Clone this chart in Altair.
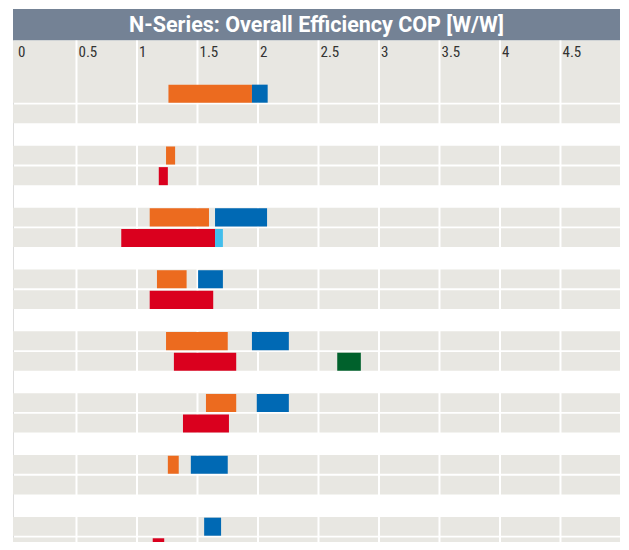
import altair as alt
import pandas as pd

# ---- data ----
title_text = "N-Series: Overall Efficiency COP [W/W]"
tick_values = [0, 0.5, 1, 1.5, 2, 2.5, 3, 3.5, 4, 4.5]
tick_labels = ["0", "0.5", "1", "1.5", "2", "2.5", "3", "3.5", "4", "4.5"]

n_groups = 8
rows_per_group = 2

bar_group = [0, 0, 1, 1, 2, 2, 2, 2, 3, 3, 3, 4, 4, 4, 4, 5, 5, 5, 6, 6, 7, 7]
bar_row = [0, 0, 0, 1, 0, 0, 1, 1, 0, 0, 1, 0, 0, 1, 1, 0, 0, 1, 0, 0, 0, 1]
bar_start = [1.26, 1.95, 1.24, 1.18, 1.105, 1.645, 0.87, 1.645, 1.165, 1.505, 1.105,
             1.24, 1.95, 1.305, 2.655, 1.57, 1.99, 1.38, 1.255, 1.445, 1.555, 1.13]
bar_end = [1.95, 2.08, 1.315, 1.255, 1.595, 2.075, 1.645, 1.71, 1.41, 1.71, 1.63,
           1.75, 2.255, 1.82, 2.85, 1.82, 2.255, 1.76, 1.345, 1.75, 1.695, 1.225]
bar_series = ["orange", "blue", "orange", "red", "orange", "blue", "red", "lightblue",
              "orange", "blue", "red", "orange", "blue", "red", "green", "orange",
              "blue", "red", "orange", "blue", "blue", "red"]

series_names = ["orange", "blue", "red", "lightblue", "green"]
series_colors = ["#EC6B1F", "#0069B4", "#DA001E", "#42BEEC", "#00612C"]

# ---- layout (in scale units) ----
X_MIN, X_MAX = -0.0248, 4.992
Y_MIN, Y_MAX = -3.589, 22.26
HEADER_BOTTOM = -2.061
INSET = 0.045
TITLE_FONT = "Roboto, sans-serif"
FONT = "Liberation Sans Narrow, Roboto Condensed, Roboto, sans-serif"

xs = alt.Scale(domain=[X_MIN, X_MAX], nice=False, zero=False)
ys = alt.Scale(domain=[Y_MIN, Y_MAX], nice=False, zero=False, reverse=True)


def X(f):
    return alt.X(f, type="quantitative", scale=xs, axis=None)


def Y(f):
    return alt.Y(f, type="quantitative", scale=ys, axis=None)


header_df = pd.DataFrame({"x0": [X_MIN], "x1": [X_MAX], "y0": [Y_MIN], "y1": [HEADER_BOTTOM],
                          "xm": [(X_MIN + X_MAX) / 2], "ym": [(Y_MIN + HEADER_BOTTOM) / 2],
                          "t": [title_text]})
label_bg_df = pd.DataFrame({"x0": [X_MIN], "x1": [X_MAX], "y0": [HEADER_BOTTOM], "y1": [INSET + 0.2]})

rows = []
for g in range(n_groups):
    for r in range(rows_per_group):
        p = g * 3 + r
        rows.append({"x0": X_MIN, "x1": X_MAX, "y0": p + INSET, "y1": p + 1 - INSET})
rows_df = pd.DataFrame(rows)

grid_df = pd.DataFrame({"x": tick_values[1:], "y0": HEADER_BOTTOM, "y1": Y_MAX})
ticks_df = pd.DataFrame({"x": tick_values, "label": tick_labels, "y": -1.27})

bars_df = pd.DataFrame({
    "x0": bar_start, "x1": bar_end, "series": bar_series,
    "y0": [g * 3 + r + 0.08 for g, r in zip(bar_group, bar_row)],
    "y1": [g * 3 + r + 1 - INSET for g, r in zip(bar_group, bar_row)],
})

header = alt.Chart(header_df).mark_rect(color="#748295").encode(
    x=X("x0"), x2="x1", y=Y("y0"), y2="y1")
title = alt.Chart(header_df).mark_text(
    color="white", font=TITLE_FONT, fontSize=21.5, fontWeight="bold", baseline="middle", align="center", dy=1
).encode(x=X("xm"), y=Y("ym"), text="t:N")
label_bg = alt.Chart(label_bg_df).mark_rect(color="#E8E7E2").encode(
    x=X("x0"), x2="x1", y=Y("y0"), y2="y1")
row_bg = alt.Chart(rows_df).mark_rect(color="#E8E7E2", clip=True).encode(
    x=X("x0"), x2="x1", y=Y("y0"), y2="y1")
grid = alt.Chart(grid_df).mark_rule(color="white", strokeWidth=2, clip=True).encode(
    x=X("x"), y=Y("y0"), y2="y1")
ticks = alt.Chart(ticks_df).mark_text(
    color="#333333", font=FONT, fontSize=15, align="left", baseline="alphabetic", dx=2
).encode(x=X("x"), y=Y("y"), text="label:N")
bars = alt.Chart(bars_df).mark_rect(clip=True).encode(
    x=X("x0"), x2="x1", y=Y("y0"), y2="y1",
    color=alt.Color("series:N", scale=alt.Scale(domain=series_names, range=series_colors), legend=None))

chart = alt.layer(header, label_bg, row_bg, grid, ticks, bars, title).properties(
    width=607, height=533,
    padding={"left": 5, "top": 1, "right": 0, "bottom": 0},
).configure_view(stroke=None).configure(background="white")

chart.save("out.html", embed_options={"renderer": "svg", "actions": False})
